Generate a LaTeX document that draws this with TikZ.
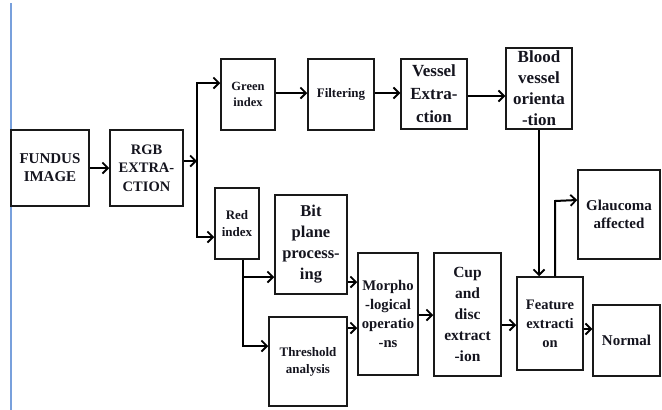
\documentclass[tikz,border=0pt]{standalone}
\usepackage{fontspec}
\setmainfont{Liberation Serif}
\usetikzlibrary{arrows.meta}
\definecolor{boxline}{RGB}{25,25,25}
\definecolor{txt}{RGB}{20,20,30}
\definecolor{margin}{RGB}{120,160,220}
\newcommand{\fsz}[2]{\fontsize{#1}{#2}\selectfont}
\tikzset{
  box/.style n args={4}{draw=boxline, line width=1.5pt, inner sep=0pt, align=center, text=txt,
    minimum width=#1, minimum height=#2, font=\bfseries\fsz{#3}{#4}},
  conn/.style={draw=black, line width=2pt},
  arr/.style={conn, -{Straight Barb[length=5.5pt,width=11pt,line width=1.8pt]}},
}
\begin{document}
\begin{tikzpicture}[x=1pt,y=-1pt]
\useasboundingbox (0,0) rectangle (662,410);
\draw[margin, line width=1.6pt] (11,3) -- (11,410);

\node[box={78}{76}{15}{18}] (fundus) at (50,168) {FUNDUS\\IMAGE};
\node[box={73}{76}{14.5}{18.5}] (rgb) at (146.5,168) {RGB\\EXTRA-\\CTION};
\node[box={54}{71}{12.5}{16}] (green) at (248,94.5) {Green\\index};
\node[box={66}{71}{13}{16}] (filter) at (341,94.5) {Filtering};
\node[box={66}{70}{17}{23}] (vessel) at (434,94) {Vessel\\Extra-\\ction};
\node[box={66}{81}{17}{21}] (blood) at (539,88.5) {Blood\\vessel\\orienta\\-tion};
\node[box={44}{71}{13}{17}] (red) at (237,223.5) {Red\\index};
\node[box={72}{99}{16.5}{21}] (bit) at (311,244.5) {Bit\\plane\\process-\\ing};
\node[box={78}{89}{13}{17}] (thresh) at (308,361.5) {Threshold\\analysis};
\node[box={60}{122}{14.7}{19}] (morph) at (388,314) {Morpho\\-logical\\operatio\\-ns};
\node[box={67}{123}{15.5}{21}] (cup) at (467.5,314.5) {Cup\\and\\disc\\extract\\-ion};
\node[box={66}{93}{14.5}{19}] (feature) at (550,323.5) {Feature\\extracti\\on};
\node[box={82}{89}{15}{18}] (glaucoma) at (619,214.5) {Glaucoma\\affected};
\node[box={67}{71}{15}{18}] (normal) at (626.5,340.5) {Normal};

% RGB split
\coordinate (split) at (197,161);
\coordinate (sg) at (197,83);
\coordinate (sr) at (197,237);
\draw[arr] (fundus) -- (rgb);
\draw[arr] (rgb.east |- split) -- (split);
\draw[conn] (sg) -- (sr);
\draw[arr] ([xshift=-1pt]sg) -- (sg -| green.west);
\draw[arr] ([xshift=-1pt]sr) -- (sr -| red.west);

% green branch
\draw[arr] (green.east |- 0,93) -- (filter.west |- 0,93);
\draw[arr] (filter.east |- 0,93) -- (vessel.west |- 0,93);
\coordinate (vb) at (470,96);
\draw[arr] (vessel.east |- vb) -- (vb -| blood.west);
\draw[arr] (blood.south) -- (blood.south |- feature.north);

% red branch
\coordinate (rd) at (243,346);
\coordinate (rb) at (243,277);
\draw[conn] (rd |- red.south) -- (rd);
\draw[arr] (rb) -- (rb -| bit.west);
\draw[arr] ([xshift=-1pt]rd) -- (rd -| thresh.west);
\coordinate (bm) at (350,282);
\coordinate (tm) at (350,328);
\draw[arr] (bit.east |- bm) -- (bm -| morph.west);
\draw[arr] (thresh.east |- tm) -- (tm -| morph.west);
\coordinate (mc) at (420,315);
\draw[arr] (morph.east |- mc) -- (mc -| cup.west);
\coordinate (cf) at (505,325);
\draw[arr] (cup.east |- cf) -- (cf -| feature.west);

% outputs
\coordinate (gq) at (555,200);
\draw[arr] (gq |- feature.north) -- ([yshift=-1pt]gq) -- (gq -| glaucoma.west);
\coordinate (fn) at (585,329);
\draw[arr] (feature.east |- fn) -- (fn -| normal.west);
\end{tikzpicture}
\end{document}
